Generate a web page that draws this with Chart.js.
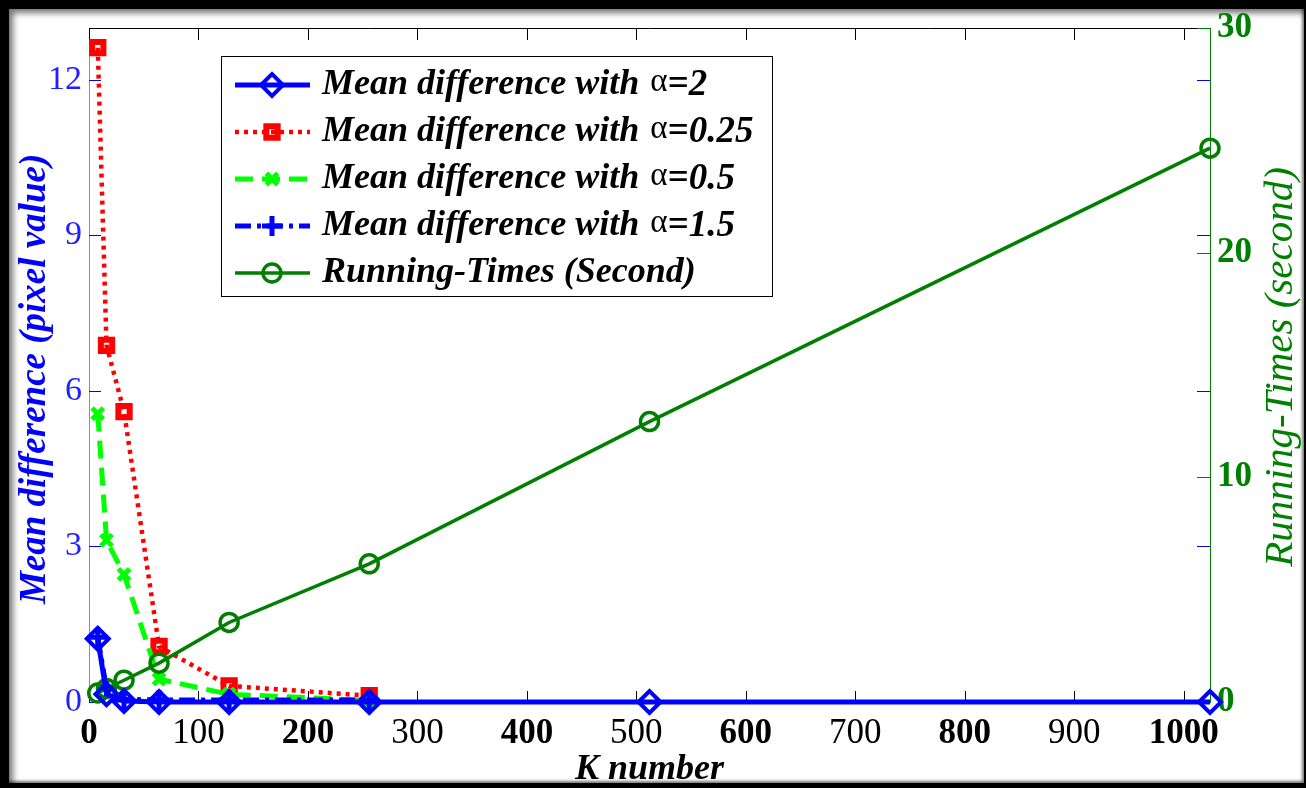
<!DOCTYPE html>
<html>
<head>
<meta charset="utf-8">
<script src="https://cdn.jsdelivr.net/npm/chart.js@4.4.0/dist/chart.umd.min.js"></script>
<style>
    html, body { margin: 0; padding: 0; background: #000; }
    body { width: 1306px; height: 788px; overflow: hidden; position: relative; }
    #card {
        position: absolute; left: 9px; top: 9px; width: 1295px; height: 774px;
        background: #fff; overflow: hidden;
        box-shadow: inset 4px 4px 6px rgba(0, 0, 0, 0.55), inset -2px -2px 3px rgba(0, 0, 0, 0.5);
    }
    #wrap { position: absolute; left: -9px; top: -9px; width: 1306px; height: 788px; }
</style>
</head>
<body>
<div id="card">
    <div id="wrap"><canvas id="chart" width="1306" height="788"></canvas></div>
</div>
<script>
// K values on the x axis
const kValues = [8, 16, 32, 64, 128, 256, 512, 1024];

// Mean difference (pixel value), left axis
const diffAlpha2 = [1.22, 0.15, 0.02, 0, 0, 0, 0, 0];
const diffAlpha025 = [12.62, 6.88, 5.6, 1.07, 0.31, 0.12];
const diffAlpha05 = [5.56, 3.12, 2.46, 0.44, 0.15, 0.03];
const diffAlpha15 = [1.25, 0.25, 0.05, 0.04, 0.04, 0.04];

// Running times (second), right axis
const runningTimes = [0.4, 0.6, 0.97, 1.73, 3.54, 6.15, 12.48, 24.65];

// Tick labels
const xTicks = [0, 100, 200, 300, 400, 500, 600, 700, 800, 900, 1000];
const xBoldTicks = [0, 200, 400, 600, 800, 1000];
const leftTicks = [0, 3, 6, 9, 12];
const rightTicks = [0, 10, 20, 30];

const SERIF = "'Liberation Serif', 'Times New Roman', serif";

function toPoints(values) {
    return values.map((y, i) => ({ x: kValues[i], y: y }));
}

// Inward tick marks and the top frame line, MATLAB style
const axisDecor = {
    id: 'axisDecor',
    beforeDatasetsDraw(chart) {
        const { ctx, chartArea: a, scales: { x, yL, yR } } = chart;
        const seg = (x1, y1, x2, y2) => {
            ctx.beginPath();
            ctx.moveTo(x1, y1);
            ctx.lineTo(x2, y2);
            ctx.stroke();
        };
        ctx.save();
        ctx.lineWidth = 1;

        ctx.strokeStyle = '#000';
        seg(a.left, a.top + 0.5, a.right, a.top + 0.5);
        x.ticks.forEach(t => {
            const px = Math.round(x.getPixelForValue(t.value)) + 0.5;
            seg(px, a.bottom, px, a.bottom - 11);
            seg(px, a.top, px, a.top + 12);
        });

        ctx.strokeStyle = '#0000ff';
        yL.ticks.forEach(t => {
            const py = Math.round(yL.getPixelForValue(t.value)) + 0.5;
            seg(a.left, py, a.left + 12, py);
            seg(a.right, py, a.right - 13, py);
        });

        ctx.strokeStyle = '#008000';
        yR.ticks.forEach(t => {
            const py = Math.round(yR.getPixelForValue(t.value)) + 0.5;
            seg(a.right, py, a.right - 13, py);
        });
        ctx.restore();
    }
};

// Right axis title reads bottom-to-top, so it is drawn here
const rightTitle = {
    id: 'rightTitle',
    afterDraw(chart) {
        const { ctx, chartArea: a } = chart;
        ctx.save();
        ctx.translate(1281, (a.top + a.bottom) / 2 + 2);
        ctx.rotate(-Math.PI / 2);
        ctx.font = 'italic 41px ' + SERIF;
        ctx.fillStyle = '#008000';
        ctx.textAlign = 'center';
        ctx.textBaseline = 'middle';
        ctx.fillText('Running-Times (second)', 0, 0);
        ctx.restore();
    }
};

// Boxed legend inside the plot area
const boxLegend = {
    id: 'boxLegend',
    afterDatasetsDraw(chart) {
        const { ctx } = chart;
        const box = { left: 221, top: 56, right: 772, bottom: 296 };
        const rowTop = 85, rowGap = 47;
        ctx.save();
        ctx.fillStyle = '#fff';
        ctx.fillRect(box.left, box.top, box.right - box.left, box.bottom - box.top);
        ctx.strokeStyle = '#000';
        ctx.lineWidth = 1;
        ctx.strokeRect(box.left + 0.5, box.top + 0.5, box.right - box.left, box.bottom - box.top);

        chart.data.datasets.forEach((ds, i) => {
            const y = rowTop + i * rowGap;
            ctx.save();
            ctx.strokeStyle = ds.borderColor;
            ctx.lineWidth = ds.borderWidth;
            ctx.setLineDash(ds.borderDash || []);
            ctx.beginPath();
            ctx.moveTo(235, y);
            ctx.lineTo(310, y);
            ctx.stroke();
            ctx.setLineDash([]);
            ctx.lineWidth = ds.pointBorderWidth;
            ctx.fillStyle = 'rgba(0,0,0,0)';
            Chart.helpers.drawPoint(ctx, {
                pointStyle: ds.pointStyle,
                radius: ds.pointRadius,
                rotation: 0,
                borderWidth: ds.pointBorderWidth
            }, 272, y);
            ctx.restore();

            ctx.fillStyle = '#000';
            ctx.textBaseline = 'middle';
            const parts = ds.label.split('α');
            let tx = 322;
            ctx.font = 'italic bold 36px ' + SERIF;
            ctx.fillText(parts[0], tx, y);
            tx += ctx.measureText(parts[0]).width + 2;
            if (parts.length > 1) {
                ctx.font = '33px ' + SERIF;
                ctx.fillText('α', tx, y - 3);
                tx += ctx.measureText('α').width;
                ctx.font = 'italic bold 37px ' + SERIF;
                ctx.fillText(parts[1], tx, y);
            }
        });
        ctx.restore();
    }
};

const datasets = [
    {
        label: 'Mean difference with α=2',
        data: toPoints(diffAlpha2),
        yAxisID: 'yL',
        borderColor: '#0000ff',
        borderWidth: 5,
        pointStyle: 'rectRot',
        pointRadius: 11,
        pointBorderWidth: 4,
        order: 0
    },
    {
        label: 'Mean difference with α=0.25',
        data: toPoints(diffAlpha025),
        yAxisID: 'yL',
        borderColor: '#ff0000',
        borderWidth: 4.5,
        borderDash: [4, 5],
        pointStyle: 'rect',
        pointRadius: 8,
        pointBorderWidth: 6,
        order: 4
    },
    {
        label: 'Mean difference with α=0.5',
        data: toPoints(diffAlpha05),
        yAxisID: 'yL',
        borderColor: '#00ff00',
        borderWidth: 5,
        borderDash: [18, 9],
        pointStyle: 'crossRot',
        pointRadius: 8,
        pointBorderWidth: 5,
        order: 3
    },
    {
        label: 'Mean difference with α=1.5',
        data: toPoints(diffAlpha15),
        yAxisID: 'yL',
        borderColor: '#0000ff',
        borderWidth: 5,
        borderDash: [16, 6, 4, 6],
        pointStyle: 'cross',
        pointRadius: 10,
        pointBorderWidth: 5,
        order: 2
    },
    {
        label: 'Running-Times (Second)',
        data: toPoints(runningTimes),
        yAxisID: 'yR',
        borderColor: '#007f00',
        borderWidth: 3.5,
        pointStyle: 'circle',
        pointRadius: 9,
        pointBorderWidth: 3.5,
        order: 1
    }
];

datasets.forEach(ds => {
    ds.pointBackgroundColor = 'rgba(0,0,0,0)';
    ds.pointBorderColor = ds.borderColor;
    ds.pointHoverRadius = ds.pointRadius;
    ds.tension = 0;
    ds.clip = false;
});

new Chart(document.getElementById('chart'), {
    type: 'line',
    data: { datasets: datasets },
    options: {
        responsive: false,
        animation: false,
        devicePixelRatio: 1,
        layout: { padding: { top: 25, left: 0, right: 0, bottom: 0 } },
        plugins: {
            legend: { display: false },
            tooltip: { enabled: false }
        },
        scales: {
            x: {
                type: 'linear',
                min: 0,
                max: 1024,
                afterBuildTicks: s => { s.ticks = xTicks.map(v => ({ value: v })); },
                afterFit: s => { s.height = 86; },
                grid: { display: false, drawTicks: false },
                border: { color: '#808080', width: 1 },
                ticks: {
                    color: '#000',
                    padding: 11,
                    maxRotation: 0,
                    autoSkip: false,
                    callback: v => String(v),
                    font: ctx => ({
                        family: SERIF,
                        size: 35,
                        weight: xBoldTicks.includes(ctx.tick && ctx.tick.value) ? 'bold' : 'normal'
                    })
                },
                title: {
                    display: true,
                    text: 'K number',
                    color: '#000',
                    font: { family: SERIF, size: 36, weight: 'bold', style: 'italic' },
                    padding: { top: 0, bottom: -3 }
                }
            },
            yL: {
                type: 'linear',
                position: 'left',
                min: 0,
                max: 13,
                afterBuildTicks: s => { s.ticks = leftTicks.map(v => ({ value: v })); },
                afterFit: s => { s.width = 89; },
                grid: { display: false, drawTicks: false },
                border: { color: '#8080ff', width: 1 },
                ticks: {
                    color: '#1f1fff',
                    padding: 7,
                    font: { family: SERIF, size: 34 }
                },
                title: {
                    display: true,
                    text: 'Mean difference (pixel value)\u00a0\u00a0\u00a0',
                    color: '#0000ff',
                    font: { family: SERIF, size: 37, weight: 'bold', style: 'italic' },
                    padding: { top: 13, bottom: 0 }
                }
            },
            yR: {
                type: 'linear',
                position: 'right',
                min: 0,
                max: 30,
                afterBuildTicks: s => { s.ticks = rightTicks.map(v => ({ value: v })); },
                afterFit: s => { s.width = 96; },
                grid: { display: false, drawTicks: false },
                border: { color: '#008000', width: 1 },
                ticks: {
                    color: '#008000',
                    padding: 7,
                    font: { family: SERIF, size: 35, weight: 'bold' }
                }
            }
        }
    },
    plugins: [axisDecor, boxLegend, rightTitle]
});
</script>
</body>
</html>
